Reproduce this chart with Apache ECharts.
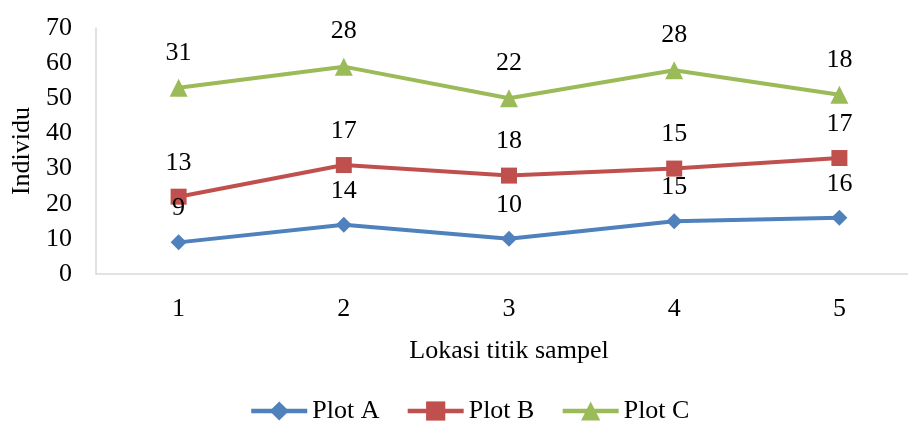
<!DOCTYPE html>
<html lang="en">
<head>
    <meta charset="UTF-8">
    <title>Individu per lokasi</title>
    <script src="https://cdn.jsdelivr.net/npm/echarts@6/dist/echarts.min.js"></script>
    <style>
        html, body { margin: 0; padding: 0; background: #fff; overflow: hidden; }
        /* plot runs a bit past the right edge of the window, like the original */
        #chart { width: 922px; height: 422px; }
    </style>
</head>
<body>
<div id="chart"></div>
<script type="text/javascript">
// data (series are stacked, labels show own value)
var lokasi = ['1', '2', '3', '4', '5'];
var plotA = [9, 14, 10, 15, 16];
var plotB = [13, 17, 18, 15, 17];
var plotC = [31, 28, 22, 28, 18];
var seriesNames = ['Plot A', 'Plot B', 'Plot C'];
var warna = ['#4F81BD', '#C0504D', '#9BBB59'];
var simbol = ['diamond', 'rect', 'triangle'];

var font = 'Liberation Serif, Times New Roman, serif';
var fs = 26;
var myChart = echarts.init(document.getElementById('chart'));

function buatSeri(idx, data, size) {
    return {
        name: seriesNames[idx],
        type: 'line',
        stack: 'total',
        data: data,
        symbol: simbol[idx],
        symbolSize: size,
        showAllSymbol: true,
        lineStyle: { color: warna[idx], width: 4 },
        itemStyle: { color: warna[idx] },
        label: {
            show: true,
            position: 'top',
            distance: 13,
            color: '#000',
            fontFamily: font,
            fontSize: fs
        },
        emphasis: { disabled: true }
    };
}

var option = {
    animation: false,
    color: warna,
    grid: { left: 96, right: 0, top: 28, bottom: 148 },
    legend: {
        top: 393,
        left: 244,
        itemWidth: 56,
        itemHeight: 24,
        itemGap: 26,
        lineStyle: { width: 4.5 },
        textStyle: { fontFamily: font, fontSize: fs, color: '#000' },
        data: seriesNames
    },
    xAxis: {
        type: 'category',
        data: lokasi,
        boundaryGap: true,
        name: 'Lokasi titik sampel',
        nameLocation: 'middle',
        nameGap: 64,
        nameTextStyle: { fontFamily: font, fontSize: fs, color: '#000' },
        axisLine: { lineStyle: { color: '#d9d9d9', width: 1.5 } },
        axisTick: { show: false },
        axisLabel: { fontFamily: font, fontSize: fs, color: '#000', margin: 22 }
    },
    yAxis: {
        type: 'value',
        min: 0,
        max: 70,
        interval: 10,
        name: 'Individu',
        nameLocation: 'middle',
        nameRotate: 90,
        nameGap: 59,
        nameTextStyle: { fontFamily: font, fontSize: fs, color: '#000' },
        axisLine: { show: true, lineStyle: { color: '#d9d9d9', width: 1.5 } },
        axisTick: { show: false },
        splitLine: { show: false },
        axisLabel: { fontFamily: font, fontSize: fs, color: '#000', margin: 24 }
    },
    series: [
        buatSeri(0, plotA, 16),
        buatSeri(1, plotB, 16),
        buatSeri(2, plotC, 18)
    ]
};
myChart.setOption(option);
</script>
</body>
</html>
